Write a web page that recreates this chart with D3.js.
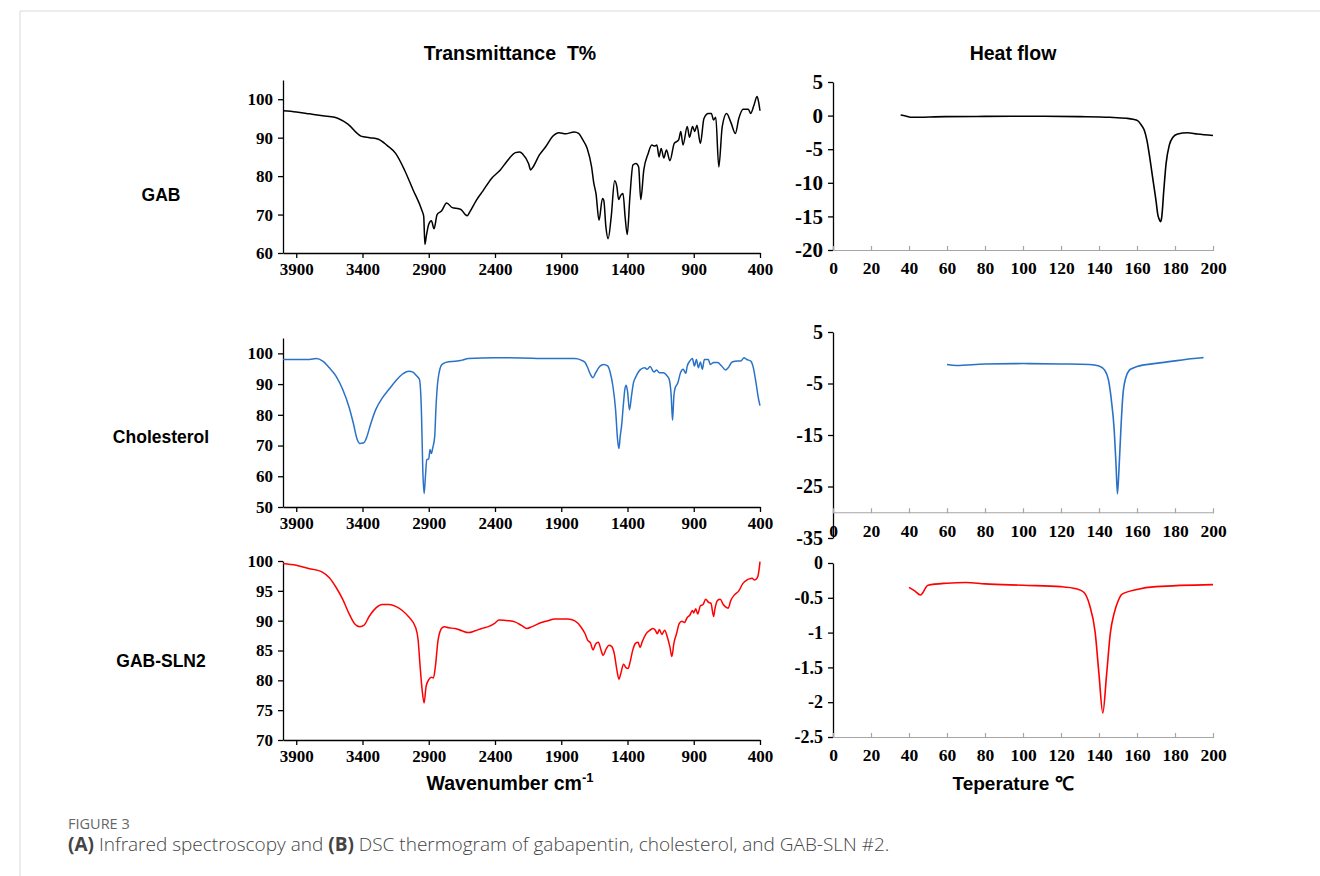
<!DOCTYPE html>
<html lang="en">
<head>
<meta charset="UTF-8">
<title>Figure 3 - IR and DSC</title>
<script src="https://d3js.org/d3.v7.min.js"></script>
<style>
  body { margin: 0; background: #fff; }
  .tick text { font-family: "Liberation Serif", "Times New Roman", serif; font-weight: bold; fill: #000; }
  .head { font-family: "Liberation Sans", Arial, sans-serif; font-weight: bold; fill: #000; }
  .cap { font-family: "Open Sans", "Noto Sans", sans-serif; }
</style>
</head>
<body>
<svg width="1320" height="876"></svg>
<script>
// ---- IR spectra (wavenumber cm-1, transmittance %)
const gabIrWave = [4000,3900,3800,3700,3610,3510,3412,3346,3280,3215,3150,3083,3018,2952,2938,2929,2918,2900,2880,2860,2837,2804,2765,2722,2673,2656,2624,2610,2590,2541,2492,2426,2360,2311,2246,2213,2190,2147,2131,2114,2065,2016,1966,1917,1868,1802,1769,1737,1704,1671,1654,1638,1615,1589,1579,1563,1546,1523,1497,1480,1467,1451,1434,1418,1402,1382,1359,1336,1316,1300,1277,1244,1217,1195,1178,1162,1146,1126,1106,1080,1047,1014,998,981,949,932,909,892,876,850,823,790,767,751,734,711,685,652,619,586,560,527,488,471,445,422,409,400];
const gabIrT = [97.0,96.7,96.2,95.7,95.3,93.5,90.4,90.0,89.6,88.0,85.9,81.6,76.4,71.1,69.5,62.2,64.5,67.5,68.4,66.3,70.0,70.9,73.0,71.8,71.5,71.3,70.0,69.7,70.7,73.7,76.1,79.4,81.6,83.8,86.1,86.3,85.7,83.3,81.6,82.3,85.5,87.7,90.3,91.3,91.0,91.5,91.1,89.4,87.2,82.4,78.1,75.5,68.5,74.2,73.7,66.8,63.7,69.4,78.8,77.2,73.9,75.0,75.5,69.4,64.8,74.6,82.9,83.3,82.4,73.9,81.6,85.9,88.1,87.8,88.1,85.0,87.2,84.7,86.8,84.0,88.5,89.4,91.6,88.1,92.9,90.1,92.9,91.6,93.2,88.5,95.0,96.3,96.3,94.6,95.3,82.4,92.9,96.3,93.9,91.1,95.0,97.4,97.4,96.3,98.5,100.7,99.0,97.0];

const cholIrWave = [4000,3800,3750,3700,3650,3600,3550,3500,3470,3440,3420,3390,3370,3340,3300,3250,3200,3150,3100,3050,3020,2990,2970,2955,2945,2935,2925,2915,2900,2890,2880,2870,2855,2845,2830,2800,2750,2700,2650,2600,2400,2200,2000,1800,1750,1720,1700,1680,1660,1640,1610,1580,1550,1530,1510,1490,1475,1465,1455,1445,1430,1420,1410,1400,1385,1370,1355,1340,1300,1270,1250,1230,1200,1180,1160,1130,1100,1085,1070,1060,1050,1040,1020,1000,980,960,950,930,910,895,880,865,850,835,820,790,775,750,720,690,660,640,610,570,545,520,500,470,450,430,415,400];
const cholIrT = [98.0,98.0,98.3,97.5,95.3,92.6,88.3,82.3,77.4,72.0,70.7,70.9,72.5,76.8,81.7,85.5,88.3,91.0,93.2,94.2,93.9,92.6,91.5,80.7,62.2,54.4,60.0,65.4,65.7,68.7,67.4,69.2,73.0,82.8,91.5,96.4,97.3,97.4,97.8,98.3,98.6,98.5,98.3,98.3,97.8,97.0,95.3,93.2,92.1,93.7,95.7,96.4,95.9,93.7,89.3,81.7,72.0,69.0,73.0,76.3,83.9,88.3,89.6,87.7,81.6,86.1,90.4,92.1,94.8,95.3,94.8,95.7,93.9,94.6,93.7,93.7,92.6,91.5,86.1,78.2,86.1,88.8,90.4,93.7,94.8,93.5,95.7,97.5,98.3,95.9,98.0,95.3,97.2,94.8,98.0,98.0,96.4,97.0,97.0,95.9,94.6,95.3,97.2,97.5,97.5,98.6,98.0,97.5,95.3,90.4,86.1,83.0];

const slnIrWave = [4000,3900,3800,3750,3700,3650,3600,3550,3500,3460,3420,3390,3350,3300,3250,3200,3150,3100,3050,3000,2980,2965,2950,2935,2920,2900,2880,2865,2850,2830,2800,2780,2750,2700,2650,2600,2550,2500,2450,2400,2370,2300,2250,2200,2160,2120,2050,2000,1950,1850,1800,1750,1720,1700,1680,1660,1640,1620,1600,1585,1560,1540,1520,1500,1480,1465,1450,1430,1410,1395,1380,1360,1340,1320,1305,1290,1260,1230,1210,1190,1175,1160,1140,1120,1100,1080,1065,1050,1030,1010,990,970,950,930,910,900,885,870,850,830,810,790,770,750,740,720,700,680,660,640,620,590,560,530,500,480,460,440,420,405,400];
const slnIrT = [99.6,99.3,98.7,98.5,98.1,97.2,95.6,93.6,91.1,89.5,89.0,89.2,90.7,92.1,92.7,92.7,92.4,91.7,90.6,88.9,86.7,82.3,78.4,76.2,79.0,80.1,80.5,80.4,82.3,86.7,88.8,89.0,88.8,88.7,88.3,88.0,88.3,88.7,89.0,89.6,90.1,90.0,89.8,89.2,88.7,89.0,89.7,90.0,90.3,90.3,90.0,88.9,87.8,86.7,86.3,85.1,86.1,86.4,85.1,84.2,85.3,85.9,85.7,84.5,81.7,80.2,81.2,82.7,82.1,82.0,83.1,85.1,86.2,86.4,85.5,86.4,87.8,88.4,88.7,88.4,87.8,88.5,87.7,88.4,87.3,85.6,84.0,86.2,87.8,89.5,89.9,89.7,90.5,90.9,91.7,91.3,92.0,91.1,92.5,92.7,93.6,93.1,92.9,90.7,92.0,93.4,93.6,92.8,92.3,92.1,93.4,94.4,95.0,96.2,96.8,97.0,97.1,96.8,97.2,98.9,99.9];

// ---- DSC thermograms (temperature C, heat flow)
const gabDscTemp = [35.6,38.2,40.8,59,80,111,130,145.7,154.4,157.9,160.3,162,163.8,165.2,166.4,168.2,170,170.9,171.8,172.4,173,174.1,175.3,177,178.8,181.4,186.6,191.8,200];
const gabDscHeat = [0.1,-0.05,-0.25,-0.15,-0.12,-0.1,-0.15,-0.25,-0.4,-0.55,-0.75,-1.3,-2.15,-3.65,-5.65,-9.15,-12.65,-14.65,-15.5,-15.8,-15.15,-11.15,-7.15,-4.4,-3.25,-2.75,-2.55,-2.75,-2.95];

const cholDscTemp = [60,65,80,100,120,135,140,143,145,146.5,148,149,149.7,150.5,151.5,152.5,154,156,158,160,170,180,190,195];
const cholDscHeat = [-1.32,-1.5,-1.2,-1.13,-1.2,-1.3,-1.6,-2.4,-4.35,-8.2,-14,-21.1,-26.4,-21.8,-14,-7.6,-4,-2.4,-2,-1.7,-1.1,-0.6,-0.15,0.03];

const slnDscTemp = [40,43,46,50,60,70,80,100,120,128,132,135,138,140,142,144,146,148,150,152,160,170,200];
const slnDscHeat = [-0.35,-0.4,-0.46,-0.32,-0.29,-0.28,-0.3,-0.32,-0.34,-0.37,-0.42,-0.6,-1.0,-1.6,-2.155,-1.6,-1.0,-0.72,-0.55,-0.45,-0.38,-0.34,-0.31];

// ---- tick labels
const irTicksX = [3900,3400,2900,2400,1900,1400,900,400];
const dscTicksX = [0,20,40,60,80,100,120,140,160,180,200];
const gabIrTicksY = [60,70,80,90,100];
const cholIrTicksY = [50,60,70,80,90,100];
const slnIrTicksY = [70,75,80,85,90,95,100];
const gabDscTicksY = [-20,-15,-10,-5,0,5];
const cholDscTicksY = [-35,-25,-15,-5,5];
const slnDscTicksY = [-2.5,-2,-1.5,-1,-0.5,0];

const svg = d3.select("svg");

// frame lines of the page
svg.append("line").attr("x1", 20).attr("x2", 1320).attr("y1", 11).attr("y2", 11)
  .attr("stroke", "#d9d9d9");
svg.append("line").attr("x1", 20).attr("x2", 20).attr("y1", 11).attr("y2", 876)
  .attr("stroke", "#d9d9d9");

function irPanel(wave, T, yDomain, yRange, yTicks, color) {
  const x = d3.scaleLinear().domain([4000, 400]).range([283, 760]);
  const y = d3.scaleLinear().domain(yDomain).range(yRange);
  const g = svg.append("g");

  const xa = g.append("g").attr("transform", `translate(0,${y(yDomain[0])})`)
    .call(d3.axisBottom(x).tickValues(irTicksX).tickSize(5).tickSizeOuter(0).tickPadding(5)
      .tickFormat(d => d));
  xa.selectAll("text").attr("font-size", 17);
  xa.selectAll("path,line").attr("stroke", "#000").attr("stroke-width", 1.3);

  const ya = g.append("g").attr("transform", `translate(${x(4000)},0)`)
    .call(d3.axisLeft(y).tickValues(yTicks).tickSize(5).tickSizeOuter(0).tickPadding(5));
  ya.selectAll("text").attr("font-size", 17);
  ya.selectAll("path,line").attr("stroke", "#000").attr("stroke-width", 1.3);

  g.append("path").datum(d3.zip(wave, T))
    .attr("fill", "none").attr("stroke", color).attr("stroke-width", 1.5)
    .attr("d", d3.line().x(d => x(d[0])).y(d => y(d[1])).curve(d3.curveMonotoneX));
}

function dscPanel(temp, heat, yDomain, yRange, yTicks, xAt, color, fs) {
  const x = d3.scaleLinear().domain([0, 200]).range([833, 1213]);
  const y = d3.scaleLinear().domain(yDomain).range(yRange);
  const g = svg.append("g");

  const ya = g.append("g").attr("transform", `translate(${x(0)},0)`)
    .call(d3.axisLeft(y).tickValues(yTicks).tickSize(5).tickSizeOuter(0).tickPadding(5)
      .tickFormat(d => d));
  ya.selectAll("text").attr("font-size", fs);
  ya.selectAll("path,line").attr("stroke", "#000").attr("stroke-width", 1.3);

  const xa = g.append("g").attr("transform", `translate(0,${y(xAt)})`)
    .call(d3.axisBottom(x).tickValues(dscTicksX).tickSize(4).tickSizeOuter(0).tickPadding(8));
  xa.selectAll(".tick line").attr("y1", -4).attr("y2", 1);
  xa.selectAll("text").attr("font-size", 17.5);
  xa.selectAll("path,line").attr("stroke", "#a6a6a6").attr("stroke-width", 1.2);

  g.append("path").datum(d3.zip(temp, heat))
    .attr("fill", "none").attr("stroke", color).attr("stroke-width", 1.6)
    .attr("d", d3.line().x(d => x(d[0])).y(d => y(d[1])).curve(d3.curveMonotoneX));
}

irPanel(gabIrWave, gabIrT, [60, 105], [253, 80], gabIrTicksY, "#000");
irPanel(cholIrWave, cholIrT, [50, 105], [507, 338], cholIrTicksY, "#2a72c8");
irPanel(slnIrWave, slnIrT, [70, 100], [740, 561], slnIrTicksY, "#ff0000");

dscPanel(gabDscTemp, gabDscHeat, [-20, 5], [250, 82], gabDscTicksY, -20, "#000", 21);
dscPanel(cholDscTemp, cholDscHeat, [-35, 5], [538, 332], cholDscTicksY, -30, "#2a72c8", 20);
dscPanel(slnDscTemp, slnDscHeat, [-2.5, 0], [737, 563], slnDscTicksY, -2.5, "#ff0000", 18);

// headings
svg.append("text").attr("class", "head").attr("x", 510).attr("y", 60)
  .attr("text-anchor", "middle").attr("font-size", 19.5).attr("xml:space", "preserve")
  .text("Transmittance  T%");
svg.append("text").attr("class", "head").attr("x", 1013).attr("y", 60)
  .attr("text-anchor", "middle").attr("font-size", 19.5).text("Heat flow");

const rows = [["GAB", 201], ["Cholesterol", 443], ["GAB-SLN2", 667]];
rows.forEach(r => {
  svg.append("text").attr("class", "head").attr("x", 161).attr("y", r[1])
    .attr("text-anchor", "middle").attr("font-size", 17.5).text(r[0]);
});

const wn = svg.append("text").attr("class", "head").attr("x", 510).attr("y", 790)
  .attr("text-anchor", "middle").attr("font-size", 19.5);
wn.append("tspan").text("Wavenumber cm");
wn.append("tspan").attr("dy", -8).attr("font-size", 13).text("-1");

svg.append("text").attr("class", "head").attr("x", 1013).attr("y", 790)
  .attr("text-anchor", "middle").attr("font-size", 19).text("Teperature \u2103");

// caption
svg.append("text").attr("class", "cap").attr("x", 68).attr("y", 829)
  .attr("font-size", 14.5).attr("fill", "#666").text("FIGURE 3");
const cap = svg.append("text").attr("class", "cap").attr("x", 68).attr("y", 851)
  .attr("font-size", 19).attr("font-weight", 300).attr("fill", "#444");
cap.append("tspan").attr("font-weight", "bold").text("(A)");
cap.append("tspan").text(" Infrared spectroscopy and ");
cap.append("tspan").attr("font-weight", "bold").text("(B)");
cap.append("tspan").text(" DSC thermogram of gabapentin, cholesterol, and GAB-SLN #2.");
</script>
</body>
</html>
